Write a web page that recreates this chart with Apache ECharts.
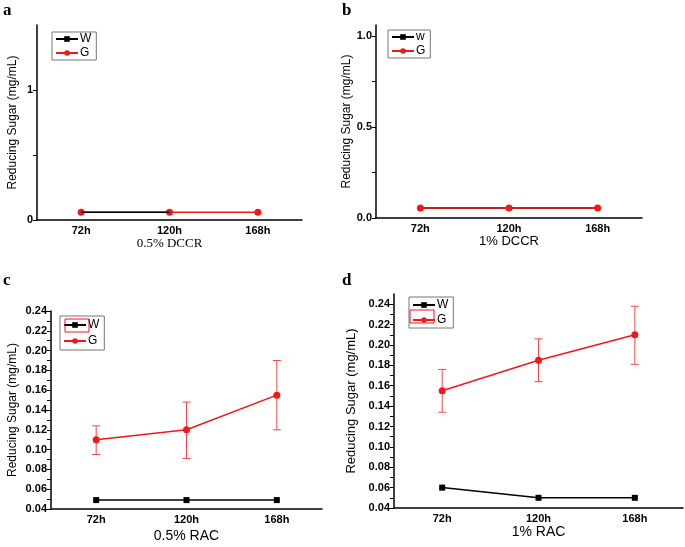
<!DOCTYPE html>
<html lang="en">
<head>
    <meta charset="UTF-8">
    <title>Reducing sugar</title>
    <script src="https://cdn.jsdelivr.net/npm/echarts@6/dist/echarts.min.js"></script>
    <style>
        html, body { margin: 0; padding: 0; background: #fff; }
        #main { width: 685px; height: 547px; }
    </style>
</head>
<body>
    <div id="main"></div>

    <script type="text/javascript">
        // categories
        var hours = ['72h', '120h', '168h'];

        // a: 0.5% DCCR
        var wA = [0.06, 0.06, '-'];
        var gA = [0.06, 0.06, 0.06];
        // b: 1% DCCR
        var wB = [0.055, 0.055, 0.055];
        var gB = [0.055, 0.055, 0.055];
        // c: 0.5% RAC
        var wC = [0.049, 0.049, 0.049];
        var gC = [0.11, 0.12, 0.155];
        var gCLow = [0.095, 0.091, 0.12];
        var gCHigh = [0.124, 0.148, 0.19];
        // d: 1% RAC
        var wD = [0.06, 0.05, 0.05];
        var gD = [0.155, 0.185, 0.21];
        var gDLow = [0.134, 0.164, 0.181];
        var gDHigh = [0.176, 0.206, 0.238];

        // tick labels
        var ticksA = [0, 1];
        var minorA = [0, 0.5, 1];
        var ticksB = [0, 0.5, 1];
        var minorB = [0, 0.25, 0.5, 0.75, 1];
        var ticksCD = [0.04, 0.06, 0.08, 0.10, 0.12, 0.14, 0.16, 0.18, 0.20, 0.22, 0.24];
        var minorCD = [0.04, 0.05, 0.06, 0.07, 0.08, 0.09, 0.10, 0.11, 0.12, 0.13, 0.14,
                       0.15, 0.16, 0.17, 0.18, 0.19, 0.20, 0.21, 0.22, 0.23, 0.24];

        var SANS = 'Liberation Sans, Arial, sans-serif';
        var SERIF = 'Liberation Serif, Times New Roman, serif';
        var RED = '#f01818';

        var myChart = echarts.init(document.getElementById('main'));

        function mainX(grid, nameText, gap, font, size) {
            return {
                type: 'category', gridIndex: grid, data: hours, boundaryGap: true,
                name: nameText, nameLocation: 'middle', nameGap: gap,
                nameTextStyle: { fontFamily: font, fontSize: size, color: '#000' },
                axisLine: { lineStyle: { color: '#000', width: 1.5 } },
                axisTick: { alignWithLabel: true, length: 5, lineStyle: { color: '#000' } },
                axisLabel: { fontFamily: SANS, fontWeight: 'bold', fontSize: 11, color: '#000', margin: 5 },
                splitLine: { show: false }
            };
        }
        function minorX(grid) {
            return {
                type: 'category', gridIndex: grid, data: hours, boundaryGap: true,
                axisLine: { show: false },
                axisTick: { length: 3, lineStyle: { color: '#000' } },
                axisLabel: { show: false },
                splitLine: { show: false }
            };
        }
        function yAx(grid, min, max, labels, ticks, fmt, gap, size) {
            return {
                type: 'value', gridIndex: grid, min: min, max: max,
                name: 'Reducing Sugar (mg/mL)', nameLocation: 'middle', nameGap: gap,
                nameTextStyle: { fontFamily: SANS, fontSize: size, color: '#000' },
                axisLine: { show: true, lineStyle: { color: '#000', width: 1.5 } },
                axisTick: { show: true, length: 4, customValues: ticks, lineStyle: { color: '#000' } },
                axisLabel: { customValues: labels, formatter: fmt, fontFamily: SANS, fontWeight: 'bold',
                             fontSize: 11, color: '#000', margin: 4 },
                splitLine: { show: false }
            };
        }
        function wLine(name, grid, data, z, sym, size) {
            return {
                name: name, type: 'line', xAxisIndex: grid, yAxisIndex: grid, data: data,
                symbol: sym || 'rect', symbolSize: size || 6, z: z,
                itemStyle: { color: '#000' }, lineStyle: { color: '#000', width: 1.5 }
            };
        }
        function gLine(name, grid, data) {
            return {
                name: name, type: 'line', xAxisIndex: grid, yAxisIndex: grid, data: data,
                symbol: 'circle', symbolSize: 7, z: 3,
                itemStyle: { color: RED }, lineStyle: { color: RED, width: 1.5 }
            };
        }
        function errBars(grid, low, high) {
            return {
                type: 'custom', xAxisIndex: grid, yAxisIndex: grid, z: 2,
                data: hours.map(function (h, i) { return [i, low[i], high[i]]; }),
                renderItem: function (params, api) {
                    var p1 = api.coord([api.value(0), api.value(1)]);
                    var p2 = api.coord([api.value(0), api.value(2)]);
                    var st = { stroke: '#f04848', lineWidth: 1 };
                    return {
                        type: 'group',
                        children: [
                            { type: 'line', shape: { x1: p1[0], y1: p1[1], x2: p2[0], y2: p2[1] }, style: st },
                            { type: 'line', shape: { x1: p1[0] - 4, y1: p1[1], x2: p1[0] + 4, y2: p1[1] }, style: st },
                            { type: 'line', shape: { x1: p2[0] - 4, y1: p2[1], x2: p2[0] + 4, y2: p2[1] }, style: st }
                        ]
                    };
                }
            };
        }
        function legendAt(names, left, top, pad, gap) {
            return {
                data: names, orient: 'vertical', left: left, top: top,
                padding: pad, itemGap: gap, itemWidth: 22, itemHeight: 7,
                borderColor: '#777', borderWidth: 1, borderRadius: 0,
                selectedMode: false,
                textStyle: { fontFamily: SANS, fontSize: 12, color: '#000', lineHeight: 11, padding: [0, 0, 0, -3] }
            };
        }
        function letter(t, x, y) {
            return { type: 'text', left: x, top: y,
                     style: { text: t, font: 'bold 17px ' + SERIF, fill: '#000' } };
        }
        function redBox(x, y, w, h) {
            return { type: 'rect', shape: { x: x, y: y, width: w, height: h },
                     style: { fill: 'none', stroke: RED, lineWidth: 1 }, z: 100 };
        }

        option = {
            backgroundColor: '#fff',
            animation: false,
            grid: [
                { left: 37, top: 25, width: 265, height: 195 },
                { left: 376, top: 25, width: 266, height: 193 },
                { left: 51, top: 311, width: 271, height: 198 },
                { left: 394, top: 294, width: 289, height: 214 }
            ],
            xAxis: [
                mainX(0, '0.5% DCCR', 14, SERIF, 13),
                mainX(1, '1% DCCR', 15, SANS, 13),
                mainX(2, '0.5% RAC', 20, SANS, 14),
                mainX(3, '1% RAC', 16, SANS, 14),
                minorX(0), minorX(1), minorX(2), minorX(3)
            ],
            yAxis: [
                yAx(0, 0, 1.5, ticksA, minorA, null, 18, 12),
                yAx(1, 0, 1.06, ticksB, minorB, function (v) { return v.toFixed(1); }, 22, 12),
                yAx(2, 0.04, 0.24, ticksCD, minorCD, function (v) { return v.toFixed(2); }, 32, 12),
                yAx(3, 0.04, 0.25, ticksCD, minorCD, function (v) { return v.toFixed(2); }, 36, 13)
            ],
            legend: [
                legendAt(['W', 'G'], 52, 32, [1, 5, 1, 3], 2),
                legendAt(['w', 'G'], 388, 30, [1, 5, 1, 3], 2),
                legendAt(['W', 'G'], 60, 316, [3, 5, 3, 3], 4),
                legendAt(['W', 'G'], 409, 297, [2, 5, 2, 3], 3)
            ],
            graphic: [
                letter('a', 3, 2), letter('b', 342, 2), letter('c', 3, 272), letter('d', 342, 272),
                redBox(65, 319, 24, 13),
                redBox(410, 310, 24, 13)
            ],
            series: [
                // c
                wLine('W', 2, wC, 2), gLine('G', 2, gC), errBars(2, gCLow, gCHigh),
                // d
                wLine('W', 3, wD, 2), gLine('G', 3, gD), errBars(3, gDLow, gDHigh),
                // a (W line drawn on top of G as in the figure)
                gLine('G', 0, gA), wLine('W', 0, wA, 4, 'none'),
                // b (W hidden under G)
                wLine('w', 1, wB, 2, 'rect', 3), gLine('G', 1, gB)
            ]
        };
        myChart.setOption(option);
    </script>
</body>
</html>
